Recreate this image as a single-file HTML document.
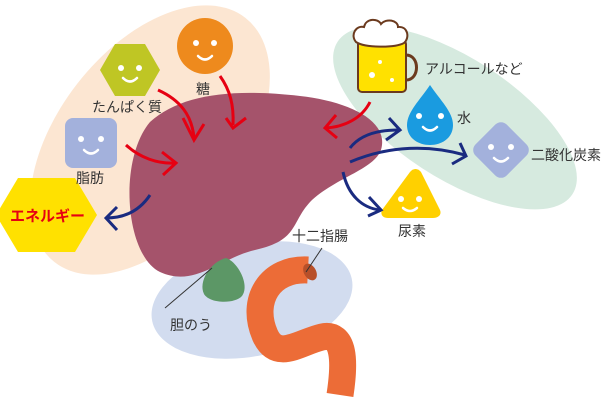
<!DOCTYPE html><html><head><meta charset="utf-8"><style>body{margin:0;background:#fff}svg{display:block}text{font-family:"Liberation Sans","Noto Sans CJK JP",sans-serif;font-size:14px;fill:#333}</style></head><body>
<svg width="610" height="400" viewBox="0 0 610 400">
<ellipse cx="150" cy="140" rx="155" ry="92" transform="rotate(-52 150 140)" fill="#fce6d2"/>
<ellipse cx="455" cy="118" rx="140" ry="60" transform="rotate(33 455 118)" fill="#d6eadf"/>
<ellipse cx="252" cy="300" rx="102" ry="56" transform="rotate(-12 252 300)" fill="#d2dcef"/>
<path d="M150,122 C180,95 230,88 300,96 C345,101 385,118 382,145 C380,168 340,175 312,200 C290,222 300,240 255,250 C220,258 195,288 160,272 C125,255 118,160 150,122 Z" fill="#a5536b"/>
<path d="M226,258 C238,262 250,285 242,296 C235,304 210,304 204,294 C198,282 210,262 226,258 Z" fill="#5c9766"/>
<path d="M308,270 C270,268 250,300 265,335 C277,362 300,342 322,337 C345,332 345,362 340,395" fill="none" stroke="#ec6c37" stroke-width="27"/>
<ellipse cx="310" cy="272" rx="6" ry="9" fill="#b8502a" transform="rotate(-30 310 272)"/>
<line x1="165" y1="308" x2="212" y2="268" stroke="#333"/><line x1="322" y1="248" x2="306" y2="272" stroke="#333"/>
<circle cx="205" cy="46" r="28" fill="#ee8a1d"/>
<polygon points="100,70 115,44 145,44 160,70 145,96 115,96" fill="#bfc624"/>
<rect x="65" y="118" width="52" height="50" rx="8" fill="#a3b1dc"/>
<polygon points="18,178 75,178 97,215 75,252 18,252 -4,215" fill="#ffe100"/>
<path d="M430,85 C440,100 453,112 453,125 C453,138 442,145 430,145 C418,145 407,138 407,125 C407,112 420,100 430,85 Z" fill="#1a9be0"/>
<rect x="479" y="128" width="44" height="44" rx="8" fill="#a3b1dc" transform="rotate(45 501 150)"/>
<path d="M410,172 C413,168 418,168 421,172 L440,210 C442,215 438,218 433,218 L388,218 C383,218 380,215 382,210 Z" fill="#ffd000"/>
<g fill="#fff">
<circle cx="196" cy="43" r="3"/><circle cx="214" cy="43" r="3"/>
<circle cx="121" cy="68" r="3"/><circle cx="139" cy="68" r="3"/>
<circle cx="81" cy="139" r="3"/><circle cx="101" cy="139" r="3"/>
<circle cx="419" cy="116" r="3"/><circle cx="441" cy="116" r="3"/>
<circle cx="491" cy="147" r="3"/><circle cx="511" cy="147" r="3"/>
<circle cx="401" cy="199" r="3"/><circle cx="419" cy="199" r="3"/>
</g>
<g fill="none" stroke="#fff" stroke-width="2.5" stroke-linecap="round">
<path d="M198,56 Q205,63 212,56"/><path d="M123,78 Q130,85 137,78"/><path d="M84,150 Q91,157 98,150"/>
<path d="M423,127 Q430,134 437,127"/><path d="M494,158 Q501,165 508,158"/><path d="M403,208 Q410,214 417,208"/>
</g>
<rect x="358" y="40" width="48" height="52" rx="4" fill="#ffe100" stroke="#6b3a1e" stroke-width="2"/>
<path d="M406,55 C420,55 420,80 406,80" fill="none" stroke="#6b3a1e" stroke-width="3"/>
<path d="M356,42 C350,35 356,25 364,27 C366,18 378,18 381,24 C386,18 398,20 398,27 C408,26 410,38 404,43 C395,48 365,48 356,42 Z" fill="#fff" stroke="#6b3a1e" stroke-width="2"/>
<circle cx="372" cy="75" r="3" fill="#fff"/><circle cx="380" cy="62" r="2" fill="#fff"/><circle cx="392" cy="80" r="2" fill="#fff"/>
<g fill="none" stroke="#e60012" stroke-width="3">
<path d="M158,90 C180,100 192,115 194,138"/><path d="M183,118 L194,140 L204,124"/>
<path d="M220,76 C230,90 234,105 233,125"/><path d="M226,118 L233,128 L246,118"/>
<path d="M126,145 C140,158 158,164 175,163"/><path d="M162,152 L176,163 L163,175"/>
<path d="M370,102 C362,118 345,127 325,128"/><path d="M336,115 L325,128 L337,138"/>
</g>
<g fill="none" stroke="#1a2b80" stroke-width="3">
<path d="M150,195 C140,210 125,218 106,218"/><path d="M117,207 L106,218 L117,230"/>
<path d="M350,148 C360,135 378,130 398,130"/><path d="M389,118 L400,130 L386,140"/>
<path d="M350,162 C390,145 430,145 465,155"/><path d="M460,143 L466,156 L452,164"/>
<path d="M343,172 C348,195 362,208 380,210"/><path d="M369,197 L381,210 L368,216"/>
</g>
<text x="196" y="94">糖</text>
<text x="92" y="112">たんぱく質</text>
<text x="76" y="183">脂肪</text>
<text x="10" y="221" style="fill:#e60012;font-weight:bold;font-size:15px">エネルギー</text>
<text x="425" y="74">アルコールなど</text>
<text x="457" y="123">水</text>
<text x="531" y="160">二酸化炭素</text>
<text x="398" y="236">尿素</text>
<text x="292" y="241">十二指腸</text>
<text x="170" y="330">胆のう</text>
</svg></body></html>
